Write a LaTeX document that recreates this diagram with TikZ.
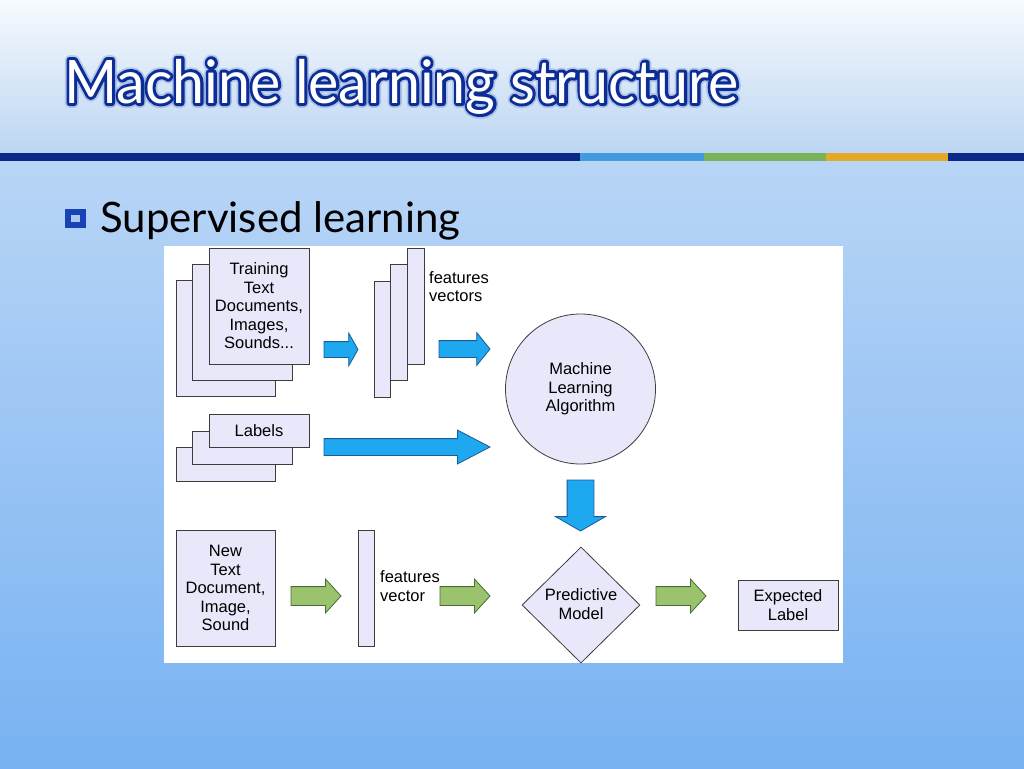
\documentclass[tikz,border=0pt]{standalone}
\usepackage{fontspec}
\setmainfont{Liberation Sans}
\newfontfamily\slidefont{Lato}
\newfontfamily\titleedgefont[FakeBold=10]{Lato}
\newfontfamily\titleglowfont[FakeBold=16]{Lato}
\usetikzlibrary{shapes.geometric,shapes.arrows}

\definecolor{bgtop}{RGB}{247,250,254}
\definecolor{bgmid}{RGB}{188,214,242}
\definecolor{bglow}{RGB}{184,213,246}
\definecolor{bgbot}{RGB}{120,178,242}
\definecolor{navy}{RGB}{10,40,135}
\definecolor{stripblue}{RGB}{64,156,222}
\definecolor{stripgreen}{RGB}{122,178,90}
\definecolor{stripgold}{RGB}{228,168,40}
\definecolor{titleedge}{RGB}{12,44,150}
\definecolor{titleglow}{RGB}{90,120,200}
\definecolor{bulletblue}{RGB}{24,66,182}
\definecolor{bulletcore}{RGB}{170,200,240}
\definecolor{sheetfill}{RGB}{232,232,250}
\definecolor{sheetedge}{RGB}{60,60,60}
\definecolor{bluefill}{RGB}{30,168,240}
\definecolor{blueedge}{RGB}{30,90,150}
\definecolor{greenfill}{RGB}{155,195,110}
\definecolor{greenedge}{RGB}{70,110,45}

\newcommand{\titlewords}{\scalebox{.955}[1]{Machine learning structure}}

\tikzset{
  sheet/.style={rectangle,draw=sheetedge,fill=sheetfill,line width=.8pt,inner sep=0pt},
  label text/.style={font=\fontsize{16.5}{18.5}\selectfont,align=center,inner sep=0pt},
  side text/.style={font=\fontsize{16.5}{18.5}\selectfont,align=left,anchor=west,inner sep=0pt},
  blockarrow/.style={single arrow,line width=.8pt,inner xsep=0pt,outer sep=0pt,anchor=tail},
  arrowsize/.style n args={4}{minimum height=#1,inner ysep=#2,
    single arrow head extend=#3,single arrow tip angle=#4},
  titletext/.style={anchor=base west,inner sep=0pt,line join=round,font=\fontsize{60}{66}\selectfont}
}

\begin{document}
\begin{tikzpicture}[x=1pt,y=-1pt]
  \useasboundingbox (0,0) rectangle (1024,768);

  % slide background and colour strip
  \shade[top color=bgtop,bottom color=bgmid] (0,0) rectangle (1024,153);
  \shade[top color=bglow,bottom color=bgbot] (0,161) rectangle (1024,768);
  \fill[navy] (0,153) rectangle (1024,161);
  \fill[stripblue] (580,153) rectangle (704,161);
  \fill[stripgreen] (704,153) rectangle (826,161);
  \fill[stripgold] (826,153) rectangle (948,161);

  % title with outline
  \node (titleglow) [titletext,text=titleglow,text opacity=.3] at (64,103) {\titleglowfont\titlewords};
  \node (titleedge) [titletext,text=titleedge] at (64,103) {\titleedgefont\titlewords};
  \node (title) [titletext,text=white] at (64,103) {\slidefont\titlewords};

  % bullet line
  \node (bullet) [rectangle,fill=bulletblue,minimum width=21pt,minimum height=19pt,inner sep=0pt] at (75,218.5) {};
  \node (bulletdot) [rectangle,fill=bulletcore,minimum width=9pt,minimum height=7pt,inner sep=0pt] at (75,218.5) {};
  \node (supervised) [anchor=base west,inner sep=0pt,font=\slidefont\fontsize{42}{50}\selectfont] at (100,232) {Supervised learning};

  % diagram panel
  \fill[white] (164,246) rectangle (843,663);

  \begin{scope}[every node/.style={sheet}]
    % training documents
    \node (train3) [minimum width=99pt,minimum height=116pt] at (225.5,338.5) {};
    \node (train2) [minimum width=100pt,minimum height=116pt] at (242,322) {};
    \node (train1) [minimum width=100pt,minimum height=116pt] at (259,306) {};
    % feature vectors
    \node (feat3) [minimum width=16pt,minimum height=116pt] at (382,339) {};
    \node (feat2) [minimum width=17pt,minimum height=116pt] at (398.5,322) {};
    \node (feat1) [minimum width=17pt,minimum height=116pt] at (415.5,306) {};
    % labels
    \node (lab3) [minimum width=99pt,minimum height=34pt] at (225.5,464) {};
    \node (lab2) [minimum width=100pt,minimum height=33pt] at (242,447.5) {};
    \node (lab1) [minimum width=100pt,minimum height=33pt] at (259,430.5) {};
    % new sample
    \node (newdoc) [minimum width=99pt,minimum height=116pt] at (225.5,588) {};
    \node (newvec) [minimum width=16pt,minimum height=116pt] at (366,588) {};
    \node (expected) [minimum width=100pt,minimum height=50pt] at (788,605) {};
    \node (algo) [circle,minimum size=150pt] at (580.5,389) {};
    \node (model) [diamond,minimum width=118pt,minimum height=116pt] at (581,605) {};
  \end{scope}

  \node (traintext) [label text] at (train1) {Training\\Text\\Documents,\\Images,\\Sounds...};
  \node (labtext) [label text] at (lab1) {Labels};
  \node (algotext) [label text] at (algo) {Machine\\Learning\\Algorithm};
  \node (newtext) [label text] at (newdoc) {New\\Text\\Document,\\Image,\\Sound};
  \node (modeltext) [label text] at (581,604) {Predictive\\Model};
  \node (exptext) [label text] at (expected) {Expected\\Label};
  \node (feattext) [side text] at (429,286.5) {features\\vectors};
  \node (vectext) [side text] at (380,586) {features\\vector};

  % block arrows
  \begin{scope}[every node/.style={blockarrow,draw=blueedge,fill=bluefill}]
    \node (toFeat) [arrowsize={34pt}{7.5pt}{8.5pt}{121}] at (324,349.5) {};
    \node (toAlgo) [arrowsize={51pt}{8pt}{8pt}{102}] at (439,349) {};
    \node (labAlgo) [arrowsize={166pt}{8pt}{8.5pt}{55}] at (324,447) {};
    \node (toModel) [arrowsize={51pt}{0pt}{11.5pt}{120},inner xsep=13pt,shape border rotate=270] at (580.5,480) {};
  \end{scope}
  \begin{scope}[every node/.style={blockarrow,draw=greenedge,fill=greenfill}]
    \node (toVec) [arrowsize={50pt}{9pt}{7.5pt}{95}] at (291,596) {};
    \node (vecModel) [arrowsize={50pt}{9pt}{7.5pt}{95}] at (440,596) {};
    \node (toLabel) [arrowsize={50pt}{9pt}{7.5pt}{95}] at (656,596) {};
  \end{scope}

\end{tikzpicture}
\end{document}
